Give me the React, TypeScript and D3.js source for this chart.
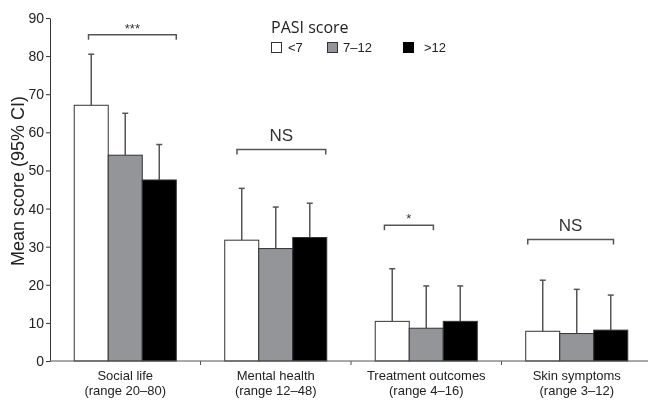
import * as d3 from "d3";
import { useEffect, useRef } from "react";

// chart data
const categories = ["Social life", "Mental health", "Treatment outcomes", "Skin symptoms"];
const ranges = ["(range 20–80)", "(range 12–48)", "(range 4–16)", "(range 3–12)"];
const series = ["<7", "7–12", ">12"];
const means = [
  [67.1, 54.0, 47.5],
  [31.7, 29.5, 32.4],
  [10.4, 8.6, 10.4],
  [7.8, 7.2, 8.1],
];
const upperCI = [
  [80.5, 65.0, 56.8],
  [45.3, 40.4, 41.4],
  [24.2, 19.7, 19.7],
  [21.2, 18.8, 17.3],
];
const yTicks = [0, 10, 20, 30, 40, 50, 60, 70, 80, 90];
// significance brackets: label, level (score units), start/end as fraction of group width
const sigLabels = ["***", "NS", "*", "NS"];
const sigLevels = [85.6, 55.5, 35.6, 31.9];
const sigFrom = [0.14, 0.12, 0.09, 0.02];
const sigTo = [1.0, 0.99, 0.57, 0.86];

const fills = ["#ffffff", "#939598", "#000000"];
const font = "'Liberation Sans', Arial, sans-serif";

const App = () => {
  const ref = useRef<HTMLDivElement>(null);

  useEffect(() => {
    d3.select(ref.current).select("svg").remove();

    const width = 648,
      height = 401;
    const margin = { left: 50, top: 18, bottom: 40 };

    const svg = d3
      .select(ref.current)
      .append("svg")
      .attr("width", width)
      .attr("height", height)
      .style("display", "block")
      .style("font-family", font);

    const y = d3.scaleLinear().domain([0, 90]).range([height - margin.bottom, margin.top]);

    const x = d3.scaleBand().domain(categories).range([margin.left, 652]).padding(0);
    const groupW = x.bandwidth() * 0.678;
    const inner = d3.scaleBand().domain(series).range([0, groupW]).padding(0);

    // y axis
    const yAxis = svg
      .append("g")
      .attr("transform", `translate(${margin.left},0)`)
      .call(d3.axisLeft(y).tickValues(yTicks).tickSize(4).tickSizeOuter(0).tickPadding(2));
    yAxis.select(".domain").attr("stroke", "#333");
    yAxis.selectAll(".tick line").attr("stroke", "#333");
    yAxis.selectAll("text").attr("font-size", 14).attr("font-family", font).attr("fill", "#222");

    svg
      .append("text")
      .attr("transform", `translate(24,181) rotate(-90)`)
      .attr("text-anchor", "middle")
      .attr("font-size", 18)
      .attr("fill", "#222")
      .text("Mean score (95% CI)");

    // groups
    categories.forEach((c, ci) => {
      const g0 = x(c)! + (x.bandwidth() - groupW) / 2;
      series.forEach((s, si) => {
        const bx = g0 + inner(s)!;
        const bw = inner.bandwidth();
        const cx = bx + bw / 2;
        // error bar (upper only)
        svg
          .append("line")
          .attr("x1", cx)
          .attr("x2", cx)
          .attr("y1", y(means[ci][si]))
          .attr("y2", y(upperCI[ci][si]))
          .attr("stroke", "#555")
          .attr("stroke-width", 1.5);
        svg
          .append("line")
          .attr("x1", cx - 3)
          .attr("x2", cx + 3)
          .attr("y1", y(upperCI[ci][si]))
          .attr("y2", y(upperCI[ci][si]))
          .attr("stroke", "#555")
          .attr("stroke-width", 1.5);
        svg
          .append("rect")
          .attr("x", bx)
          .attr("y", y(means[ci][si]))
          .attr("width", bw)
          .attr("height", y(0) - y(means[ci][si]))
          .attr("fill", fills[si])
          .attr("stroke", "#333")
          .attr("stroke-width", 1);
      });

      // significance bracket
      const bx1 = g0 + sigFrom[ci] * groupW;
      const bx2 = g0 + sigTo[ci] * groupW;
      const by = y(sigLevels[ci]);
      svg
        .append("path")
        .attr("d", `M${bx1},${by + 5}V${by}H${bx2}V${by + 5}`)
        .attr("fill", "none")
        .attr("stroke", "#555")
        .attr("stroke-width", 1.5);
      const isNS = sigLabels[ci] === "NS";
      svg
        .append("text")
        .attr("x", (bx1 + bx2) / 2)
        .attr("y", isNS ? by - 8 : by - 2)
        .attr("text-anchor", "middle")
        .attr("font-size", isNS ? 17 : 13)
        .attr("fill", "#333")
        .text(sigLabels[ci]);

      // category labels
      const cx = x(c)! + x.bandwidth() / 2;
      svg
        .append("text")
        .attr("x", cx)
        .attr("y", 379.5)
        .attr("text-anchor", "middle")
        .attr("font-size", 13)
        .attr("fill", "#222")
        .text(c);
      svg
        .append("text")
        .attr("x", cx)
        .attr("y", 395)
        .attr("text-anchor", "middle")
        .attr("font-size", 13)
        .attr("fill", "#222")
        .text(ranges[ci]);
    });

    // x axis
    svg
      .append("line")
      .attr("x1", margin.left)
      .attr("x2", width)
      .attr("y1", y(0))
      .attr("y2", y(0))
      .attr("stroke", "#555")
      .attr("stroke-width", 1.2);
    categories.slice(1).forEach((c) => {
      svg
        .append("line")
        .attr("x1", x(c)!)
        .attr("x2", x(c)!)
        .attr("y1", y(0))
        .attr("y2", y(0) + 4)
        .attr("stroke", "#555");
    });

    // legend
    const legendX = [271, 327, 403];
    const legendTextX = [288, 343, 424];
    svg
      .append("text")
      .attr("x", 271)
      .attr("y", 33)
      .attr("font-size", 16)
      .attr("font-family", "'Open Sans', sans-serif")
      .attr("fill", "#222")
      .text("PASI score");
    series.forEach((s, si) => {
      svg
        .append("rect")
        .attr("x", legendX[si] + 0.5)
        .attr("y", 42.5)
        .attr("width", 10)
        .attr("height", 10)
        .attr("fill", fills[si])
        .attr("stroke", si === 2 ? "#000" : "#333");
      svg
        .append("text")
        .attr("x", legendTextX[si])
        .attr("y", 52)
        .attr("font-size", 13)
        .attr("fill", "#222")
        .text(s);
    });
  }, []);

  return <div ref={ref} style={{ position: "fixed", left: 0, top: 0 }} />;
};

export default App;
